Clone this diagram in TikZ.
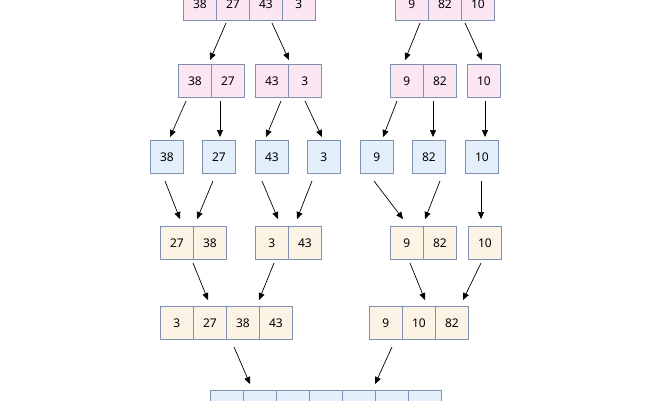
\documentclass[tikz,border=0pt]{standalone}
\usepackage{fontspec}
\setmainfont{Noto Sans}
\usetikzlibrary{arrows.meta}
\definecolor{pk}{HTML}{FCE6F2}
\definecolor{bl}{HTML}{E3F0FB}
\definecolor{cr}{HTML}{FDF3E4}
\definecolor{bd}{HTML}{7F8FAF}
\tikzset{
 cell/.style={draw=bd,line width=0.8pt,minimum width=33pt,minimum height=33pt,inner sep=0pt,anchor=north west,font=\fontsize{12}{12}\selectfont},
 pkc/.style={cell,fill=pk},blc/.style={cell,fill=bl},crc/.style={cell,fill=cr},
 arr/.style={-{Triangle[length=7pt,width=6pt]},line width=0.7pt}
}
\newcommand{\cells}[5]{% style, x, y, prefix, list
 \foreach \v [count=\i from 0] in {#5} {\node[#1] (#4\i) at ({#2+33*\i},#3) {\v};}}
\newcommand{\arrw}[4]{\coordinate (s) at (#1,#2); \coordinate (e) at (#3,#4); \draw[arr] (s) -- (e);}
\begin{document}
\begin{tikzpicture}[x=1pt,y=-1pt]
\useasboundingbox (0,0) rectangle (650,400);
\cells{pkc}{183}{-13}{a}{38,27,43,3}
\cells{pkc}{395}{-13}{b}{9,82,10}
\cells{pkc}{178}{64}{c}{38,27}
\cells{pkc}{255}{64}{d}{43,3}
\cells{pkc}{390}{64}{e}{9,82}
\cells{pkc}{467}{64}{f}{10}
\cells{blc}{150}{140}{g}{38}
\cells{blc}{202}{140}{h}{27}
\cells{blc}{255}{140}{i}{43}
\cells{blc}{307}{140}{j}{3}
\cells{blc}{360}{140}{k}{9}
\cells{blc}{412}{140}{l}{82}
\cells{blc}{465}{140}{m}{10}
\cells{crc}{160}{226}{n}{27,38}
\cells{crc}{255}{226}{o}{3,43}
\cells{crc}{390}{226}{p}{9,82}
\cells{crc}{468}{226}{q}{10}
\cells{crc}{160}{306}{r}{3,27,38,43}
\cells{crc}{369}{306}{s}{9,10,82}
\cells{blc}{210}{390}{t}{{},{},{},{},{},{},{}}
\arrw{226}{23}{210}{60}
\arrw{272}{23}{289}{60}
\arrw{420}{23}{405}{60}
\arrw{465}{23}{482}{60}
\arrw{186}{101}{170}{137}
\arrw{220}{101}{220}{137}
\arrw{281}{101}{266}{137}
\arrw{305}{101}{322}{137}
\arrw{397}{101}{383}{137}
\arrw{433}{101}{433}{137}
\arrw{485}{101}{485}{137}
\arrw{165}{181}{180}{219}
\arrw{213}{181}{197}{219}
\arrw{262}{181}{278}{219}
\arrw{312}{181}{297}{219}
\arrw{374}{181}{403}{219}
\arrw{440}{181}{425}{219}
\arrw{481}{181}{481}{219}
\arrw{193}{263}{208}{300}
\arrw{274}{263}{259}{300}
\arrw{410}{263}{425}{300}
\arrw{481}{263}{463}{300}
\arrw{234}{347}{250}{384}
\arrw{392}{347}{375}{384}
\end{tikzpicture}
\end{document}
